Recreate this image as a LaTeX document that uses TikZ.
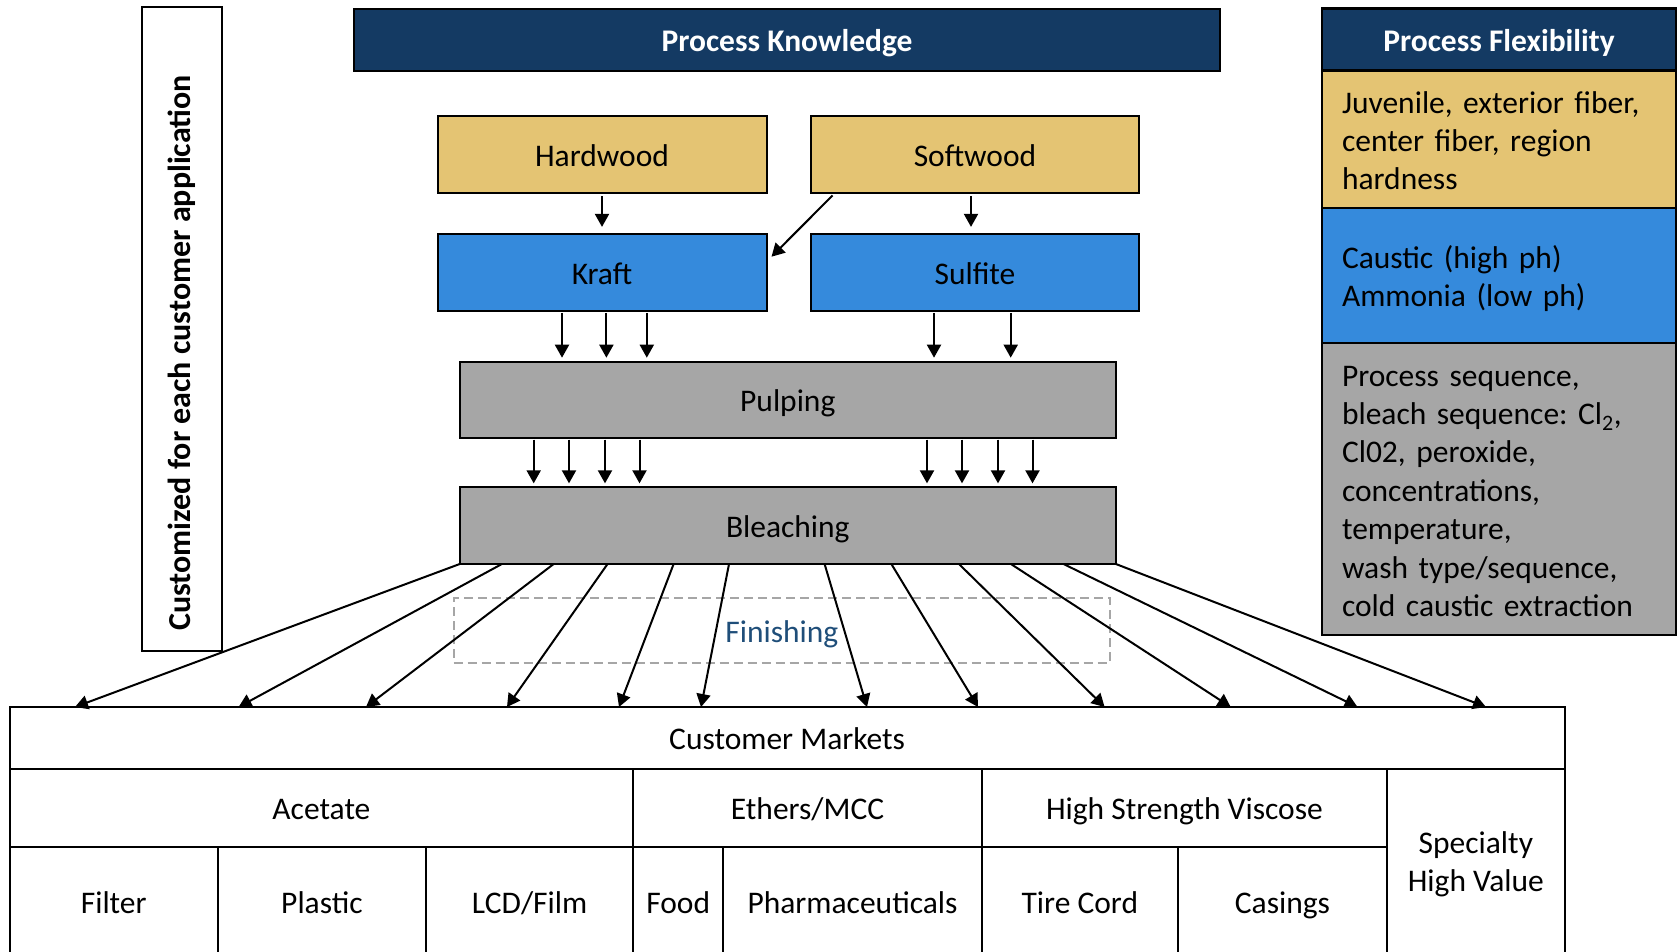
\documentclass[tikz,border=0pt]{standalone}
\usepackage{fontspec}
\setmainfont{Carlito}
\usepackage{xcolor}
\usepackage{tikz}
\usetikzlibrary{arrows.meta}
\usetikzlibrary{positioning}

\definecolor{navy}{RGB}{20,58,99}
\definecolor{wood}{RGB}{228,196,115}
\definecolor{cook}{RGB}{53,138,220}
\definecolor{mill}{RGB}{166,166,166}
\definecolor{finish}{RGB}{31,78,121}

\newcommand{\diagfont}{\fontsize{31.5}{38.4}\selectfont\frenchspacing}
\newcommand{\linestrut}{\rule[-0.22em]{0pt}{1.2em}}

\tikzset{
    box/.style={draw, line width=2pt, inner sep=0pt, outer sep=0pt, align=center, font=\diagfont,
        execute at begin node=\linestrut, execute at end node=\linestrut},
    head/.style={box, fill=navy, text=white, font=\diagfont\bfseries},
    note/.style={box, text width=314pt, inner xsep=20pt, align=left},
    arr/.style={line width=2pt, -{Triangle[width=14pt,length=13pt]}, shorten >=4pt, shorten <=2pt},
}

\begin{document}
\begin{tikzpicture}[x=1pt, y=-1pt]
    \useasboundingbox (0,0) rectangle (1677,952);

    % left banner
    \node[box, minimum width=80pt, minimum height=644pt] (custom) at (182,329) {};
    \node[rotate=90, font=\fontsize{32}{38.4}\selectfont\bfseries] (customtext) at (182,353) {Customized for each customer application};

    % process chain
    \node[head, minimum width=866pt, minimum height=62pt] (know) at (787,39.7) {Process Knowledge};
    \node[box, fill=wood, minimum width=329pt, minimum height=77pt] (hard) at (602,154.8) {Hardwood};
    \node[box, fill=wood, minimum width=328.6pt, minimum height=77pt] (soft) at (975,154.8) {Softwood};
    \node[box, fill=cook, minimum width=329pt, minimum height=77pt] (kraft) at (602,272.4) {Kraft};
    \node[box, fill=cook, minimum width=328.6pt, minimum height=77pt] (sulf) at (975,272.4) {Sulfite};
    \node[box, fill=mill, minimum width=656.4pt, minimum height=76pt] (pulp) at (787.8,399.7) {Pulping};
    \node[box, fill=mill, minimum width=656.4pt, minimum height=76.7pt] (bleach) at (787.8,525.7) {Bleaching};
    \node[box, draw=mill, dash pattern=on 9pt off 5pt, text=finish, minimum width=656.4pt, minimum height=64.4pt] (finishing) at (781.8,630.5) {Finishing};

    % flexibility column
    \node[head, line width=2.5pt, minimum width=354pt, minimum height=62pt] (pfhead) at (1499,39.7) {Process Flexibility};
    \node[note, fill=wood, minimum height=137.6pt, below=0pt of pfhead] (pfwood) {Juvenile, exterior fiber,\\center fiber, region\\hardness};
    \node[note, fill=cook, minimum height=135pt, below=0pt of pfwood] (pfcook) {Caustic (high ph)\\Ammonia (low ph)};
    \node[note, fill=mill, minimum height=292pt, below=0pt of pfcook] (pfmill) {Process sequence,\\bleach sequence: Cl\textsubscript{2},\\Cl02, peroxide,\\concentrations,\\temperature,\\wash type/sequence,\\cold caustic extraction};

    % markets table
    \node[box, minimum width=1555pt, minimum height=61.7pt] (markets) at (787.1,737.85) {Customer Markets};
    \node[box, minimum width=623.6pt, minimum height=78pt] (acetate) at (321.4,807.7) {Acetate};
    \node[box, minimum width=348.6pt, minimum height=78pt] (ethers) at (807.5,807.7) {Ethers/MCC};
    \node[box, minimum width=405.3pt, minimum height=78pt] (viscose) at (1184.45,807.7) {High Strength Viscose};
    \node[box, minimum width=177.5pt, minimum height=192.3pt] (specialty) at (1475.85,864.85) {Specialty\\High Value};
    \node[box, minimum width=208.3pt, minimum height=109.3pt] (filter) at (113.75,901.35) {Filter};
    \node[box, minimum width=208.1pt, minimum height=109.3pt] (plastic) at (321.95,901.35) {Plastic};
    \node[box, minimum width=207.2pt, minimum height=109.3pt] (lcd) at (529.6,901.35) {LCD/Film};
    \node[box, minimum width=90pt, minimum height=109.3pt] (food) at (678.2,901.35) {Food};
    \node[box, minimum width=258.6pt, minimum height=109.3pt] (pharma) at (852.5,901.35) {Pharmaceuticals};
    \node[box, minimum width=196.1pt, minimum height=109.3pt] (tire) at (1079.85,901.35) {Tire Cord};
    \node[box, minimum width=209.2pt, minimum height=109.3pt] (casings) at (1282.5,901.35) {Casings};

    % arrows
    \draw[arr, shorten <=3pt, shorten >=7pt] (hard) -- (kraft);
    \draw[arr, shorten <=3pt, shorten >=7pt] (soft.south -| 971,0) -- (sulf.north -| 971,0);
    \draw[arr, shorten <=3pt, shorten >=0pt] ([xshift=24pt]soft.south west) -- ([xshift=5pt,yshift=15.7pt]kraft.east);
    \foreach \x in {562,606.4,646.8}
        \draw[arr] (kraft.south -| \x,0) -- (pulp.north -| \x,0);
    \foreach \x in {934,1010.7}
        \draw[arr] (sulf.south -| \x,0) -- (pulp.north -| \x,0);
    \foreach \x in {533.7,569,605,639.5,927,962,998,1032.5}
        \draw[arr] (pulp.south -| \x,0) -- (bleach.north -| \x,0);
    \foreach \a/\b in {459.6/75, 501.8/238.6, 553.6/366, 607.5/507, 673.6/619, 729/701, 824.6/867, 891.4/978, 959/1104.6, 1011/1230.7, 1063.6/1357.5, 1116/1486}
        \draw[arr, shorten >=0pt, shorten <=0pt] (bleach.south -| \a,0) -- (markets.north -| \b,0);
\end{tikzpicture}
\end{document}
